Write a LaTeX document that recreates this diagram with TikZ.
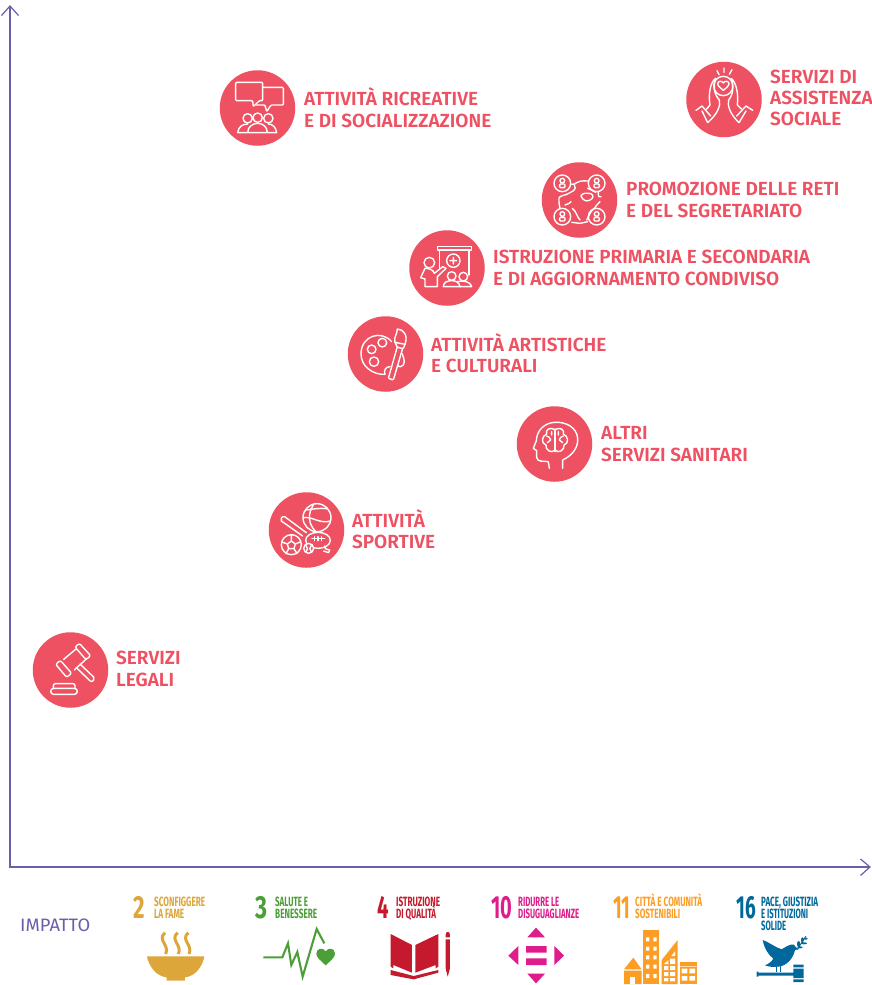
\documentclass[tikz,border=0pt]{standalone}
\usepackage{fontspec}
\setmainfont{Fira Sans}
\newfontfamily\labfont{Fira Sans SemiBold}
\definecolor{cdisc}{HTML}{ED5162}
\definecolor{caxis}{HTML}{6A5FAB}
\definecolor{csa}{HTML}{DDA63A}
\definecolor{csb}{HTML}{4C9F38}
\definecolor{csc}{HTML}{C5192D}
\definecolor{csd}{HTML}{DF1C8B}
\definecolor{cse}{HTML}{FD9D24}
\definecolor{csf}{HTML}{00689D}
\newcommand{\fitw}[2]{\resizebox{#1}{\height}{#2}}
\tikzset{
  disc/.style={circle,fill=cdisc,minimum size=75.5pt,inner sep=0pt},
  lab/.style={anchor=west,inner sep=0pt,align=left,text=cdisc,font=\labfont\fontsize{19}{21.4}\selectfont},
  axisline/.style={draw=caxis,line width=1.2pt},
  sdgt/.style={anchor=base west,inner sep=0pt,font=\bfseries\fontsize{13.4}{13.4}\selectfont},
  sdgn/.style={anchor=base west,inner sep=0pt,font=\bfseries\fontsize{32}{32}\selectfont},
  ic/.style={draw=white,line width=1.4pt,line join=round,line cap=round,fill=none},
  zoomed/.style={x=.33333pt,y=-.33333pt}
}
\begin{document}
\begin{tikzpicture}[x=1pt,y=-1pt]
\useasboundingbox (0,0) rectangle (872,985);
\fill[white] (0,0) rectangle (872,985);
% axes
\coordinate (o) at (10,867);
\coordinate (ytip) at (10,6);
\coordinate (xtip) at (870,867);
\coordinate (yl) at (1.5,15.5);
\coordinate (yr) at (18.5,15.5);
\coordinate (xu) at (860.5,859);
\coordinate (xd) at (860.5,875.5);
\draw[axisline] (ytip) -- (o) -- (xtip);
\draw[axisline] (yl) -- (ytip) -- (yr);
\draw[axisline] (xu) -- (xtip) -- (xd);
% discs
\node[disc] (d1) at (257.5,108) {};
\node[disc] (d2) at (724,99.5) {};
\node[disc] (d3) at (579.5,200) {};
\node[disc] (d4) at (447,268) {};
\node[disc] (d5) at (385.5,354) {};
\node[disc] (d6) at (554.5,444) {};
\node[disc] (d7) at (306.5,530) {};
\node[disc] (d8) at (70.5,670) {};
% labels
\node[lab] (l1) at (304,107.5) {ATTIVITÀ RICREATIVE\\E DI SOCIALIZZAZIONE};
\node[lab] (l2) at (770,98) {SERVIZI DI\\ASSISTENZA\\SOCIALE};
\node[lab] (l3) at (626,200) {PROMOZIONE DELLE RETI\\E DEL SEGRETARIATO};
\node[lab] (l4) at (493,268) {ISTRUZIONE PRIMARIA E SECONDARIA\\E DI AGGIORNAMENTO CONDIVISO};
\node[lab] (l5) at (431,353) {ATTIVITÀ ARTISTICHE\\E CULTURALI};
\node[lab] (l6) at (601,444) {ALTRI\\SERVIZI SANITARI};
\node[lab] (l7) at (352,529) {ATTIVITÀ\\SPORTIVE};
\node[lab] (l8) at (116,669) {SERVIZI\\LEGALI};
% icon: chat
\begin{scope}[shift={(210,60)},zoomed]
\draw[ic,rounded corners=1pt] (77,67) -- (158,67) -- (158,122) -- (148,122) -- (130,140) -- (128,122) -- (77,122) -- cycle;
\draw[ic,rounded corners=1pt] (158,82) -- (220,82) -- (220,135) -- (183,135) -- (170,155) -- (165,135) -- (140,135);
\draw[ic] (113,175) circle (14) (143,173) circle (14) (175,175) circle (14);
\draw[ic] (83,218) .. controls (85,200) and (98,192) .. (113,192) (143,190) .. controls (128,190) and (113,200) .. (113,218)
  (143,190) .. controls (158,190) and (172,200) .. (172,218) (175,192) .. controls (188,192) and (198,202) .. (200,218) -- (83,218);
\end{scope}
% icon: hands
\begin{scope}[shift={(680,55)},zoomed]
\draw[ic] (130,93) circle (29);
\draw[ic] (130,106) .. controls (122,99) and (113,93) .. (113,86) .. controls (113,78) and (126,76) .. (130,84) .. controls (134,76) and (147,78) .. (147,86) .. controls (147,93) and (138,99) .. (130,106) -- cycle;
\draw[ic] (111,47) -- (117,59) (132,39) -- (132,52) (156,44) -- (148,58);
\draw[ic] (107,70) .. controls (92,80) and (84,115) .. (90,150) -- (80,162) (48,166) -- (66,153) -- (92,183) (66,168) -- (83,203)
 (107,70) .. controls (100,90) and (100,115) .. (118,135) .. controls (122,150) and (115,175) .. (83,203);
\draw[ic] (153,70) .. controls (168,80) and (176,115) .. (172,150) -- (184,162) (218,166) -- (198,153) -- (170,183) (198,168) -- (177,203)
 (153,70) .. controls (160,90) and (162,115) .. (146,135) .. controls (142,150) and (148,175) .. (177,203);
\end{scope}
% icon: network
\begin{scope}[shift={(535,155)},zoomed]
\foreach \px/\py in {82/85,185/85,82/185,185/185}{
  \draw[ic] (\px,\py) circle (25);
  \draw[ic] (\px,\py-8) circle (7);
  \draw[ic,rounded corners=1pt] (\px-8,\py+13) -- (\px-8,\py+2) -- (\px+8,\py+2) -- (\px+8,\py+13) -- cycle;
}
\draw[ic] (110,88) .. controls (125,90) and (120,75) .. (158,78) (118,90) .. controls (128,105) and (110,110) .. (95,118) .. controls (88,122) and (80,120) .. (72,128)
  (158,100) .. controls (165,105) and (175,105) .. (182,112) (190,112) .. controls (188,125) and (195,130) .. (198,125)
  (72,130) .. controls (72,145) and (72,150) .. (75,160) (108,140) .. controls (100,150) and (95,145) .. (90,150)
  (112,160) .. controls (125,170) and (125,185) .. (135,195) (110,202) -- (135,205) -- (158,200) (155,195) .. controls (165,178) and (165,170) .. (178,160) (195,140) .. controls (190,150) and (180,150) .. (178,160);
\draw[ic] (138,122) .. controls (145,112) and (155,115) .. (162,115) .. controls (172,115) and (178,125) .. (170,132) .. controls (160,140) and (145,142) .. (138,122) -- cycle;
\end{scope}
% icon: teacher
\begin{scope}[shift={(400,225)},zoomed]
\draw[ic] (112,65) rectangle (215,75);
\draw[ic] (118,75) -- (118,130) (207,75) -- (207,150);
\draw[ic] (160,107) circle (20) (150,107) -- (170,107) (160,97) -- (160,117);
\draw[ic] (88,113) circle (16);
\draw[ic] (112,185) -- (112,155) -- (138,130) -- (128,125) -- (103,145) .. controls (100,133) and (85,130) .. (75,130) -- (62,158) -- (75,162) -- (75,185) -- cycle;
\draw[ic] (155,153) circle (13) (190,155) circle (13);
\draw[ic] (130,185) .. controls (130,172) and (142,167) .. (155,167) .. controls (168,167) and (178,172) .. (180,185) -- cycle;
\draw[ic] (172,170) .. controls (190,165) and (212,170) .. (215,185) -- (180,185);
\end{scope}
% icon: palette
\begin{scope}[shift={(340,310)},zoomed]
\draw[ic] (155,95) .. controls (125,60) and (65,75) .. (63,130) .. controls (62,170) and (100,195) .. (135,193) .. controls (130,180) and (138,170) .. (150,170);
\draw[ic] (127,98) circle (13) (95,118) circle (13) (102,155) circle (14);
\draw[ic] (186,130) .. controls (192,145) and (195,155) .. (190,165) .. controls (185,172) and (178,172) .. (172,165);
\draw[ic,rounded corners=1pt] (172,110) -- (145,205) -- (160,210) -- (188,115);
\draw[ic,rounded corners=1pt] (165,97) -- (172,112) -- (190,116) -- (195,103) (165,97) -- (195,103);
\draw[ic] (165,97) .. controls (160,80) and (172,75) .. (172,57) .. controls (190,58) and (205,75) .. (195,103);
\end{scope}
% icon: brain
\begin{scope}[shift={(510,400)},zoomed]
\draw[ic] (158,205) -- (158,180) .. controls (190,165) and (205,140) .. (203,115) .. controls (200,80) and (165,65) .. (135,67) .. controls (105,68) and (80,90) .. (79,122) -- (70,145) -- (80,152) -- (80,172) .. controls (82,188) and (100,182) .. (115,185) -- (118,205);
\draw[ic] (135,87) -- (135,155);
\draw[ic] (135,90) .. controls (118,78) and (105,92) .. (110,102) .. controls (95,108) and (92,130) .. (108,135) .. controls (105,150) and (125,162) .. (135,150);
\draw[ic] (135,90) .. controls (152,78) and (165,92) .. (160,102) .. controls (175,108) and (178,130) .. (162,135) .. controls (165,150) and (145,162) .. (135,150);
\draw[ic] (110,108) .. controls (118,108) and (120,115) .. (122,120) -- (112,128) (160,108) .. controls (152,108) and (150,115) .. (148,120) -- (158,128) (125,95) -- (125,105) (145,95) -- (145,105);
\end{scope}
% icon: sports
\begin{scope}[shift={(262,486)},zoomed]
\draw[ic] (165,95) circle (42);
\draw[ic] (130,72) .. controls (150,70) and (175,65) .. (195,68) (123,95) .. controls (150,90) and (175,115) .. (205,105) (155,55) .. controls (135,85) and (140,115) .. (160,135);
\draw[ic,rounded corners=2pt] (68,92) -- (133,140) (58,105) -- (122,150) (68,92) .. controls (58,90) and (55,100) .. (58,105);
\draw[ic] (88,176) circle (30);
\draw[ic] (88,165) -- (100,174) -- (96,188) -- (80,188) -- (76,174) -- cycle (88,165) -- (88,148) (100,174) -- (115,168) (96,188) -- (105,203) (80,188) -- (72,203) (76,174) -- (60,168);
\draw[ic] (168,163) ellipse (37 and 24);
\draw[ic] (150,158) -- (188,158) (157,152) -- (157,164) (168,152) -- (168,164) (179,152) -- (179,164);
\draw[ic,fill=cdisc] (140,187) circle (15);
\draw[ic] (132,178) .. controls (138,185) and (138,192) .. (132,197) (148,178) .. controls (142,185) and (142,192) .. (148,197);
\draw[ic] (188,180) .. controls (188,190) and (195,190) .. (203,192) -- (200,200) -- (185,195);
\end{scope}
% icon: gavel
\begin{scope}[shift={(25,625)},zoomed]
\draw[ic,rounded corners=2pt] (92,118) -- (106,106) -- (140,145) -- (125,157) -- cycle;
\draw[ic,rounded corners=2pt] (150,66) -- (163,55) -- (197,92) -- (183,104) -- cycle;
\draw[ic] (116,103) -- (153,72) (148,135) -- (185,101);
\draw[ic,rounded corners=2pt] (165,117) -- (210,160) -- (200,172) -- (153,127);
\draw[ic,rounded corners=2pt] (85,190) -- (85,176) -- (150,176) -- (150,190);
\draw[ic,rounded corners=3pt] (77,190) rectangle (157,208);
\end{scope}
% bottom
\node[anchor=west,inner sep=0pt,text=caxis,font=\fontsize{18}{18}\selectfont] (imp) at (20,925) {\fitw{70pt}{IMPATTO}};
\node[sdgn,text=csa] (n2) at (133.5,918.7) {\fitw{11.5pt}{2}};
\node[sdgt,text=csa] (t2a) at (154,906) {\fitw{51pt}{SCONFIGGERE}};
\node[sdgt,text=csa] (t2b) at (154,918.7) {\fitw{30pt}{LA FAME}};
\node[sdgn,text=csb] (n3) at (255,918.7) {\fitw{12pt}{3}};
\node[sdgt,text=csb] (t3a) at (275,906) {\fitw{33pt}{SALUTE E}};
\node[sdgt,text=csb] (t3b) at (275,918.7) {\fitw{42pt}{BENESSERE}};
\node[sdgn,text=csc] (n4) at (377,918.7) {\fitw{11.5pt}{4}};
\node[sdgt,text=csc] (t4a) at (396,906) {\fitw{44pt}{ISTRUZIONE}};
\node[sdgt,text=csc] (t4b) at (396,918.7) {\fitw{40pt}{DI QUALITÀ}};
\node[sdgn,text=csd] (n10) at (491,918.7) {\fitw{21pt}{10}};
\node[sdgt,text=csd] (t10a) at (518,906) {\fitw{41pt}{RIDURRE LE}};
\node[sdgt,text=csd] (t10b) at (518,918.7) {\fitw{61pt}{DISUGUAGLIANZE}};
\node[sdgn,text=cse] (n11) at (613,918.7) {\fitw{17pt}{11}};
\node[sdgt,text=cse] (t11a) at (635,906) {\fitw{67pt}{CITTÀ E COMUNITÀ}};
\node[sdgt,text=cse] (t11b) at (635,918.7) {\fitw{45pt}{SOSTENIBILI}};
\node[sdgn,text=csf] (n16) at (736,918.7) {\fitw{19.5pt}{16}};
\node[sdgt,text=csf] (t16a) at (761,906) {\fitw{57pt}{PACE, GIUSTIZIA}};
\node[sdgt,text=csf] (t16b) at (761,918.7) {\fitw{47pt}{E ISTITUZIONI}};
\node[sdgt,text=csf] (t16c) at (761,930.7) {\fitw{25pt}{SOLIDE}};
% SDG icons, left part
\begin{scope}[shift={(0,860)},zoomed]
% bowl
\fill[csa] (441,289) -- (613,289) -- (611,298) .. controls (600,335) and (575,350) .. (555,352) -- (555,362) -- (500,362) -- (500,352) .. controls (480,350) and (455,335) .. (443,298) -- cycle;
\draw[csa,line width=3pt] (495,218) .. controls (470,240) and (510,255) .. (497,282) (533,218) .. controls (508,240) and (548,255) .. (535,282) (565,218) .. controls (540,240) and (580,255) .. (567,282);
% pulse
\draw[csb,line width=2.1pt,line join=miter] (790,292) -- (847,292) -- (864,250) -- (874,315) -- (892,276) -- (908,350) -- (950,207) -- (973,250);
\fill[csb] (977,316) .. controls (960,300) and (949,292) .. (949,281) .. controls (949,263) and (970,262) .. (977,274) .. controls (984,262) and (1005,263) .. (1005,281) .. controls (1005,292) and (994,300) .. (977,316) -- cycle;
% book
\fill[csc] (1172,222) -- (1236,255) -- (1236,338) -- (1180,315) -- (1180,325) -- (1172,320) -- cycle;
\fill[csc] (1315,222) -- (1246,255) -- (1246,338) -- (1307,315) -- (1307,325) -- (1315,320) -- cycle;
\fill[csc] (1172,330) -- (1241,348) -- (1315,330) -- (1315,338) -- (1241,358) -- (1172,345) -- cycle;
\fill[csc] (1337,225) .. controls (1337,212) and (1350,212) .. (1350,225) -- (1350,232) -- (1337,232) -- cycle;
\fill[csc] (1337,238) -- (1350,238) -- (1350,325) -- (1343,350) -- (1337,325) -- cycle;
\end{scope}
% SDG icons, right part
\begin{scope}[shift={(450,860)},zoomed]
\fill[csd] (232,232) -- (258,203) -- (285,232) -- cycle (232,341) -- (285,341) -- (258,370) -- cycle (205,258) -- (175,287) -- (205,315) -- cycle (313,258) -- (342,287) -- (313,315) -- cycle (228,258) rectangle (290,278) (228,295) rectangle (290,315);
% city
\fill[cse] (580,210) rectangle (628,372);
\fill[white] (588,232) rectangle (598,244) (610,232) rectangle (620,244) (588,260) rectangle (598,272) (610,260) rectangle (620,272) (588,286) rectangle (598,298) (610,286) rectangle (620,298) (588,314) rectangle (598,326) (610,314) rectangle (620,326) (588,342) rectangle (598,354) (610,342) rectangle (620,354);
\fill[cse] (635,372) -- (635,300) -- (683,240) -- (683,372) -- cycle;
\fill[white] (642,312) -- (655,300) -- (655,312) -- cycle (660,312) rectangle (675,296) (642,318) rectangle (655,330) (660,318) rectangle (675,330) (642,336) rectangle (655,348) (660,336) rectangle (675,348) (642,354) rectangle (655,364) (660,354) rectangle (675,364);
\fill[white] (664,288) -- (675,274) -- (675,288) -- cycle;
\fill[cse] (690,307) rectangle (740,372);
\fill[white] (695,326) rectangle (712,340) (718,326) rectangle (735,340) (695,348) rectangle (712,362) (718,348) rectangle (735,362) (690,318) rectangle (740,320);
\fill[cse] (522,328) -- (550,293) -- (575,328) -- cycle (522,332) rectangle (575,372);
\fill[white] (540,350) rectangle (556,372);
% dove and gavel
\fill[csf] (938,240) .. controls (955,245) and (975,262) .. (995,268) .. controls (1005,262) and (1022,250) .. (1032,254) -- (1038,262) -- (1047,267) -- (1035,270) .. controls (1030,295) and (1010,318) .. (985,320) .. controls (970,322) and (955,320) .. (945,316) .. controls (955,312) and (965,305) .. (970,296) .. controls (955,285) and (943,265) .. (938,240) -- cycle;
\draw[csf,line width=.9pt] (1042,268) -- (1068,228);
\fill[csf] (1046,252) ellipse (5 and 9) (1057,240) ellipse (4 and 8) (1062,250) ellipse (9 and 3) (1050,262) ellipse (8 and 3) (1067,236) ellipse (6 and 3);
\draw[csf,line width=1pt] (980,318) -- (980,335) (990,318) -- (990,335);
\fill[csf] (920,335) rectangle (925,350) (922,338) rectangle (1030,347) (1030,314) rectangle (1061,322) (1030,326) rectangle (1061,354) (1030,358) rectangle (1061,366);
\end{scope}
\end{tikzpicture}
\end{document}
